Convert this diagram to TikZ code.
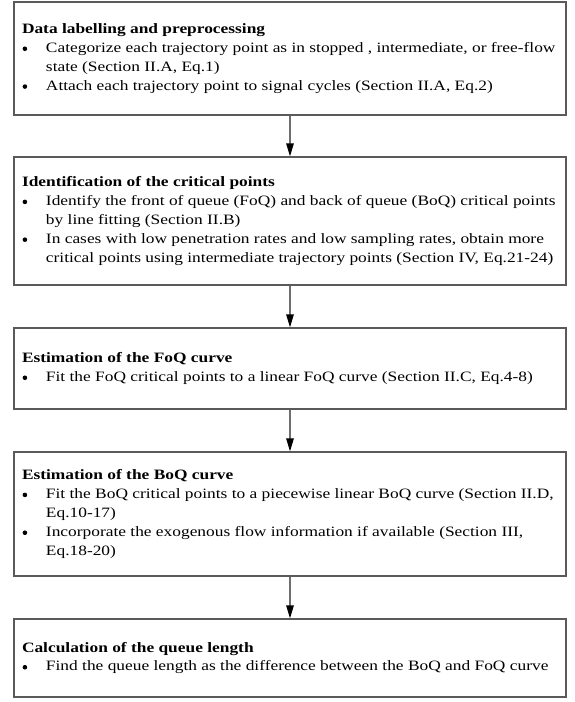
\documentclass[tikz,border=0pt]{standalone}
\usepackage{fontspec}
\setmainfont[FakeStretch=1.215]{Liberation Serif}
\usetikzlibrary{arrows.meta}
\definecolor{boxline}{RGB}{90,90,90}
\definecolor{arrline}{RGB}{110,110,110}
\hfuzz=100pt
\newcommand{\mydot}{\raisebox{1.4pt}{\tikz\fill[black] (0,0) circle (2.3pt);}}
\newcommand{\ttl}[1]{\hbox to 536pt{\bfseries #1\hfil}}
\newcommand{\bl}[1]{\hbox to 536pt{\makebox[24pt][l]{\hspace{0.6pt}\mydot}#1\hfil}}
\newcommand{\cl}[1]{\hbox to 536pt{\hspace{24pt}#1\hfil}}
\begin{document}
\begin{tikzpicture}[x=1pt,y=1pt,
  stepbox/.style={draw=boxline,line width=1.3pt,rectangle,minimum width=552pt,inner xsep=8pt,inner ysep=0pt,
    font=\fontsize{14.3pt}{18.9pt}\selectfont},
  flow/.style={draw=arrline,line width=1.3pt,-{Triangle[width=7.5pt,length=13pt,color=black]}}]
\useasboundingbox (0,0) rectangle (574,-702);
\node[stepbox,minimum height=113pt] (b1) at (290,-58.5) {\vbox{%
\ttl{Data labelling and preprocessing}
\bl{Categorize each trajectory point as in stopped , intermediate, or free-flow}
\cl{state (Section II.A, Eq.1)}
\bl{Attach each trajectory point to signal cycles (Section II.A, Eq.2)}}};
\node[stepbox,minimum height=128pt] (b2) at (290,-221) {\vbox{%
\ttl{Identification of the critical points}
\bl{Identify the front of queue (FoQ) and back of queue (BoQ) critical points}
\cl{by line fitting (Section II.B)}
\bl{In cases with low penetration rates and low sampling rates, obtain more}
\cl{critical points using intermediate trajectory points (Section IV, Eq.21-24)}}};
\node[stepbox,minimum height=81pt] (b3) at (290,-368.5) {\vbox{%
\ttl{Estimation of the FoQ curve}
\bl{Fit the FoQ critical points to a linear FoQ curve (Section II.C, Eq.4-8)}}};
\node[stepbox,minimum height=124pt] (b4) at (290,-514) {\vbox{%
\ttl{Estimation of the BoQ curve}
\bl{Fit the BoQ critical points to a piecewise linear BoQ curve (Section II.D,}
\cl{Eq.10-17)}
\bl{Incorporate the exogenous flow information if available (Section III,}
\cl{Eq.18-20)}}};
\node[stepbox,minimum height=78pt] (b5) at (290,-658) {\vbox{%
\ttl{Calculation of the queue length}
\bl{Find the queue length as the difference between the BoQ and FoQ curve}}};
\draw[flow] (b1) -- (b2);
\draw[flow] (b2) -- (b3);
\draw[flow] (b3) -- (b4);
\draw[flow] (b4) -- (b5);
\end{tikzpicture}
\end{document}
